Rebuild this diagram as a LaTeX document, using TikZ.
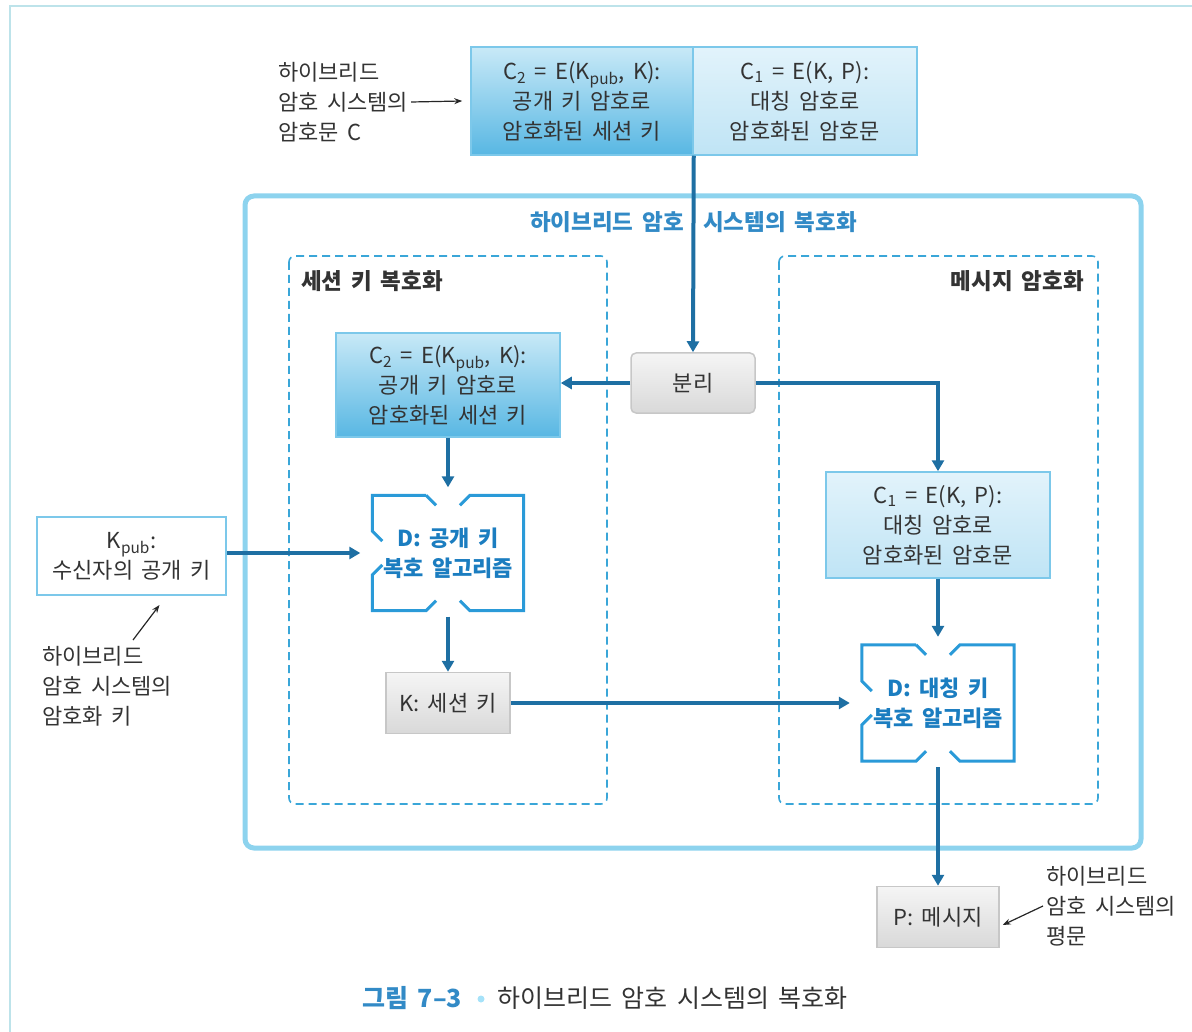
\documentclass[tikz,border=0pt]{standalone}
\usepackage{fontspec}
\setmainfont{Noto Sans CJK KR}[WordSpace=1.7]
\usetikzlibrary{arrows.meta,calc}
\definecolor{txt}{HTML}{333333}
\definecolor{arr}{HTML}{1E6FA3}
\definecolor{dline}{HTML}{2A9AD8}
\definecolor{dtxt}{HTML}{1B7DC0}
\definecolor{frame}{HTML}{8DD3EE}
\definecolor{dash}{HTML}{3AA6D8}
\definecolor{bborder}{HTML}{7CC8EA}
\definecolor{outer}{HTML}{BDE3EA}
\definecolor{dtop}{HTML}{C8E9F7}
\definecolor{dbot}{HTML}{58B7E3}
\definecolor{ltop}{HTML}{E2F3FB}
\definecolor{lbot}{HTML}{BFE4F5}
\begin{document}
\begin{tikzpicture}[x=1pt,y=-1pt,
  every node/.style={text=txt,font=\fontsize{22}{30}\selectfont},
  darkbox/.style={draw=bborder,line width=1.5pt,top color=dtop,bottom color=dbot,align=center,inner sep=0pt},
  lightbox/.style={draw=bborder,line width=1.5pt,top color=ltop,bottom color=lbot,align=center,inner sep=0pt},
  graybox/.style={draw=black!22,line width=1.5pt,top color=black!4,bottom color=black!15,align=center,inner sep=0pt},
  dnode/.style={inner sep=0pt,align=center,text=dtxt,font=\fontsize{22}{30}\selectfont\bfseries},
  conn/.style={draw=arr,line width=4pt,-{Triangle[length=11pt,width=12pt]}},
  thin/.style={draw=black!85,line width=1.2pt,-{Stealth[length=8pt,width=6pt]}},
  dbox/.style={draw=dline,line width=3pt,line join=miter},
  dashbox/.style={draw=dash,line width=1.6pt,dash pattern=on 8pt off 5pt,rounded corners=6pt},
  sect/.style={font=\fontsize{22.5}{30}\selectfont\bfseries,text=txt,inner sep=0pt}
]
\useasboundingbox (0,0) rectangle (1192,1032);
\draw[outer,line width=1.5pt] (10,1100) -- (10,6) -- (1300,6);

% top boxes
\node[darkbox,minimum width=222pt,minimum height=108pt] (tl) at (582,101) {C\textsubscript{2} = E(K\textsubscript{pub}, K):\\공개 키 암호로\\암호화된 세션 키};
\node[lightbox,minimum width=224pt,minimum height=108pt] (tr) at (805,101) {C\textsubscript{1} = E(K, P):\\대칭 암호로\\암호화된 암호문};
\node[anchor=west,align=left,inner sep=0pt] (lbl1) at (278,102) {하이브리드\\암호 시스템의\\암호문 C};
\draw[thin] ([xshift=3pt]lbl1.east) -- ([xshift=-8pt]tl.west);

% big frame
\draw[frame,line width=5pt,rounded corners=9pt] (245,196) rectangle (1141,848);
\node[sect,text=dtxt!90,anchor=east] (t1) at (684,222) {하이브리드 암호};
\node[sect,text=dtxt!90,anchor=west] (t2) at (703,222) {시스템의 복호화};

\draw[dashbox] (289,256) rectangle (607,804);
\draw[dashbox] (779,256) rectangle (1098,804);
\node[sect,anchor=west] (s1) at (301,281) {세션 키 복호화};
\node[sect,anchor=east] (s2) at (1084,281) {메시지 암호화};

% boxes
\node[graybox,rounded corners=5pt,minimum width=124pt,minimum height=60pt] (sep) at (693,383) {분리};
\node[darkbox,minimum width=224pt,minimum height=104pt] (c2) at (448,385) {C\textsubscript{2} = E(K\textsubscript{pub}, K):\\공개 키 암호로\\암호화된 세션 키};
\node[lightbox,minimum width=224pt,minimum height=106pt] (c1) at (938,525) {C\textsubscript{1} = E(K, P):\\대칭 암호로\\암호화된 암호문};
\node[dnode,minimum width=151pt,minimum height=115pt] (d1) at (448,553) {D: 공개 키\\복호 알고리즘};
\node[dnode,minimum width=152pt,minimum height=116pt] (d2) at (938,703) {D: 대칭 키\\복호 알고리즘};
\node[draw=bborder,line width=2pt,fill=white,align=center,inner sep=0pt,minimum width=189pt,minimum height=78pt] (kp) at (131.5,556) {K\textsubscript{pub}:\\수신자의 공개 키};
\node[graybox,minimum width=124pt,minimum height=61pt] (k) at (448,703) {K: 세션 키};
\node[graybox,minimum width=122pt,minimum height=61pt] (p) at (938,917) {P: 메시지};

\node[anchor=west,align=left,inner sep=0pt] (lbl2) at (42,686) {하이브리드\\암호 시스템의\\암호화 키};
\coordinate (a2) at (133,640);
\draw[thin] (a2) -- ([xshift=28pt,yshift=-9pt]kp.south);
\node[anchor=west,align=left,inner sep=0pt] (lbl3) at (1046,906) {하이브리드\\암호 시스템의\\평문};
\draw[thin] ([xshift=-3pt]lbl3.west) -- ([xshift=3pt,yshift=-8pt]p.east);

% notched boxes
\foreach \n in {d1,d2}{
  \draw[dbox] ([xshift=-22pt]\n.north) -- ([xshift=-12pt,yshift=-10pt]\n.north);
  \draw[dbox] ([xshift=12pt,yshift=-10pt]\n.north) -- ([xshift=22pt]\n.north) -- (\n.north east) -- (\n.south east) -- ([xshift=22pt]\n.south) -- ([xshift=12pt,yshift=10pt]\n.south);
  \draw[dbox] ([xshift=-12pt,yshift=10pt]\n.south) -- ([xshift=-22pt]\n.south) -- (\n.south west) -- ([yshift=-22pt]\n.west) -- ([xshift=10pt,yshift=-12pt]\n.west);
  \draw[dbox] ([xshift=10pt,yshift=12pt]\n.west) -- ([yshift=22pt]\n.west) -- (\n.north west) -- ([xshift=-22pt]\n.north);
}

% connectors
\draw[conn] (tl.south east) -- (sep.north);
\draw[conn] (sep.west) -- (sep.west -| c2.east);
\draw[conn] (sep.east) -| (c1.north);
\draw[conn,shorten >=8pt] (c2.south) -- (d1.north);
\draw[conn,shorten >=12pt] (kp.east |- d1.west) -- (d1.west);
\draw[conn,shorten <=6pt] (d1.south) -- (k.north);
\draw[conn,shorten >=12pt] (k.east) -- (d2.west);
\draw[conn,shorten >=8pt] (c1.south) -- (d2.north);
\draw[conn,shorten <=6pt] (d2.south) -- (p.north);

% caption
\node[anchor=west,inner sep=0pt,text=dtxt!90,font=\fontsize{25}{30}\selectfont\bfseries] (cap1) at (362,998) {그림 7‒3};
\fill[cyan!35] (481,999) circle (3.5pt);
\node[anchor=west,inner sep=0pt,font=\fontsize{25}{30}\selectfont] (cap2) at (497,998) {하이브리드 암호 시스템의 복호화};
\end{tikzpicture}
\end{document}
